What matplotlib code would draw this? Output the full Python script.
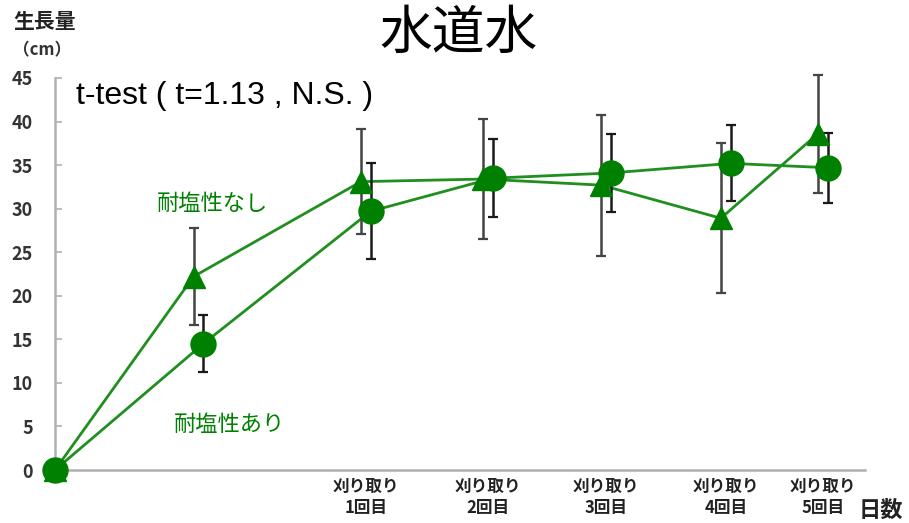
import matplotlib
matplotlib.use('Agg')
import matplotlib.pyplot as plt

plt.rcParams['font.family'] = ['Noto Sans CJK JP', 'DejaVu Sans']

# 日数 (播種からの経過日) と刈り取り回のラベル
days = [0, 10.2, 22.1, 30.8, 39.2, 47.7, 54.6]
harvest_labels = ['刈り取り\n1回目', '刈り取り\n2回目', '刈り取り\n3回目',
                  '刈り取り\n4回目', '刈り取り\n5回目']

# 生長量 (cm) の平均と標準偏差
nashi = [0, 22.2, 33.1, 33.4, 32.7, 28.9, 38.6]
nashi_err = [0, 5.6, 6.0, 6.85, 8.1, 8.6, 6.8]
ari = [0, 14.5, 29.7, 33.5, 34.1, 35.2, 34.7]
ari_err = [0, 3.3, 5.5, 4.45, 4.5, 4.35, 4.0]

dodge = 0.35
x_nashi = [d - dodge if d > 0 else d for d in days]
x_ari = [d + dodge if d > 0 else d for d in days]

line_green = '#1f8f1f'
mark_green = '#008000'

fig = plt.figure(figsize=(9.09, 5.23), dpi=100)
ax = fig.add_axes([55/909, 53/523, 810/909, 392/523])

def draw_series(x, y, err, marker, ms, ecolor, z):
    ax.plot(x, y, color=line_green, lw=2, zorder=2, clip_on=False)
    eb = ax.errorbar(x, y, yerr=err, fmt='none', ecolor=ecolor,
                     elinewidth=1.8, capsize=3.5, capthick=1.6, zorder=3)
    for a in list(eb.lines[1]) + list(eb.lines[2]):
        a.set_clip_on(False)
    ax.plot(x, y, ls='none', marker=marker, ms=ms, color=mark_green,
            zorder=z, clip_on=False)

draw_series(x_nashi, nashi, nashi_err, '^', 16, '#444444', 4)
draw_series(x_ari, ari, ari_err, 'o', 18, '#1a1a1a', 5)

ax.set_xlim(0, 57.6)
ax.set_ylim(0, 45)
for s in ['top', 'right']:
    ax.spines[s].set_visible(False)
for s in ['left', 'bottom']:
    ax.spines[s].set_color('#b0b0b0')
    ax.spines[s].set_linewidth(1.8)

ax.set_yticks(range(0, 46, 5))
ax.tick_params(axis='y', direction='in', length=5, width=1.2,
               color='#b0b0b0', pad=16, labelsize=13, labelcolor='#333333')
ax.set_xticks(days[2:], harvest_labels)
ax.tick_params(axis='x', length=0, pad=6, labelsize=12, labelcolor='#222222')
for lab in ax.get_xticklabels() + ax.get_yticklabels():
    lab.set_fontweight('bold')

# 系列名
ax.text(11.2, 30.65, '耐塩性なし', color=mark_green, fontsize=16,
        ha='center', va='center')
ax.text(12.4, 5.2, '耐塩性あり', color=mark_green, fontsize=16,
        ha='center', va='center')

fig.text(459/909, 1 - 33/523, '水道水', fontsize=38, ha='center', va='center')
fig.text(76/909, 1 - 96/523, 't-test ( t=1.13 , N.S. )', fontsize=23,
         family='Liberation Sans', va='center')
fig.text(45/909, 1 - 21/523, '生長量', fontsize=15, fontweight='bold',
         ha='center', va='center', color='#222222')
fig.text(42/909, 1 - 50/523, '（cm）', fontsize=12, fontweight='bold',
         ha='center', va='center', color='#333333')
fig.text(881/909, 1 - 510/523, '日数', fontsize=16, fontweight='bold',
         ha='center', va='center', color='#222222')

fig.savefig('out.png', dpi=100)
